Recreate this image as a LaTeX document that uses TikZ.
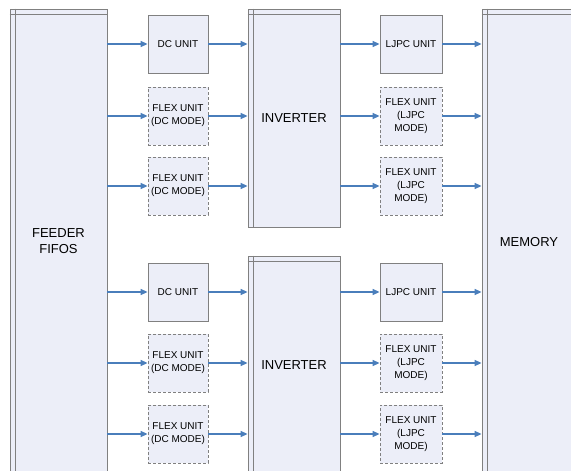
\documentclass[tikz,border=0pt]{standalone}
\usepackage{fontspec}
\setmainfont{Liberation Sans}
\usetikzlibrary{arrows.meta}
\definecolor{boxfill}{HTML}{ECEEF8}
\definecolor{boxline}{HTML}{808080}
\definecolor{arrblue}{HTML}{4A7EBB}
\begin{document}
\begin{tikzpicture}[x=1pt, y=-1pt,
    big/.style={draw=boxline, fill=boxfill, line width=0.8pt, align=center, font=\fontsize{13}{16}\selectfont},
    unit/.style={draw=boxline, fill=boxfill, line width=0.8pt, minimum height=58pt, inner sep=1pt,
      align=center, font=\fontsize{10}{13}\selectfont},
    flex/.style={unit, dash pattern=on 3pt off 2pt},
    arr/.style={-{Triangle[length=7pt,width=6pt]}, arrblue, line width=1.3pt}]
  \useasboundingbox (0,0) rectangle (571,471);
  \clip (0,0) rectangle (571,471);
  % Big blocks
  \node[big, minimum width=97pt, minimum height=464pt] (feeder) at (58.5,241) {FEEDER\\FIFOS};
  \node[big, minimum width=92pt, minimum height=218pt] (inv1) at (294,118) {INVERTER};
  \node[big, minimum width=92pt, minimum height=218pt] (inv2) at (294,365) {INVERTER};
  \node[big, minimum width=94pt, minimum height=466pt] (mem) at (529,242) {MEMORY};
  \foreach \b in {feeder,inv1,inv2,mem} {
    \draw[boxline, line width=0.8pt] ([xshift=6pt]\b.north west) -- ([xshift=6pt]\b.south west);
    \draw[boxline, line width=0.8pt] ([yshift=-6pt]\b.north west) -- ([yshift=-6pt]\b.north east);
  }
  % DC side
  \node[unit, minimum width=60pt] (dc1) at (178,44) {DC UNIT};
  \node[flex, minimum width=60pt] (dcf1) at (178,116) {FLEX UNIT\\(DC MODE)};
  \node[flex, minimum width=60pt] (dcf2) at (178,186) {FLEX UNIT\\(DC MODE)};
  \node[unit, minimum width=60pt] (dc2) at (178,292) {DC UNIT};
  \node[flex, minimum width=60pt] (dcf3) at (178,363) {FLEX UNIT\\(DC MODE)};
  \node[flex, minimum width=60pt] (dcf4) at (178,434) {FLEX UNIT\\(DC MODE)};
  % LJPC side
  \node[unit, minimum width=62pt] (lj1) at (411,44) {LJPC UNIT};
  \node[flex, minimum width=62pt] (ljf1) at (411,116) {FLEX UNIT\\(LJPC\\MODE)};
  \node[flex, minimum width=62pt] (ljf2) at (411,186) {FLEX UNIT\\(LJPC\\MODE)};
  \node[unit, minimum width=62pt] (lj2) at (411,292) {LJPC UNIT};
  \node[flex, minimum width=62pt] (ljf3) at (411,363) {FLEX UNIT\\(LJPC\\MODE)};
  \node[flex, minimum width=62pt] (ljf4) at (411,434) {FLEX UNIT\\(LJPC\\MODE)};
  % Arrows
  \foreach \u/\i in {dc1/inv1,dcf1/inv1,dcf2/inv1,dc2/inv2,dcf3/inv2,dcf4/inv2} {
    \draw[arr] (feeder.east |- \u.west) -- (\u.west);
    \draw[arr] (\u.east) -- (\u.east -| \i.west);
  }
  \foreach \u/\i in {lj1/inv1,ljf1/inv1,ljf2/inv1,lj2/inv2,ljf3/inv2,ljf4/inv2} {
    \draw[arr] (\i.east |- \u.west) -- (\u.west);
    \draw[arr] (\u.east) -- (\u.east -| mem.west);
  }
\end{tikzpicture}
\end{document}
